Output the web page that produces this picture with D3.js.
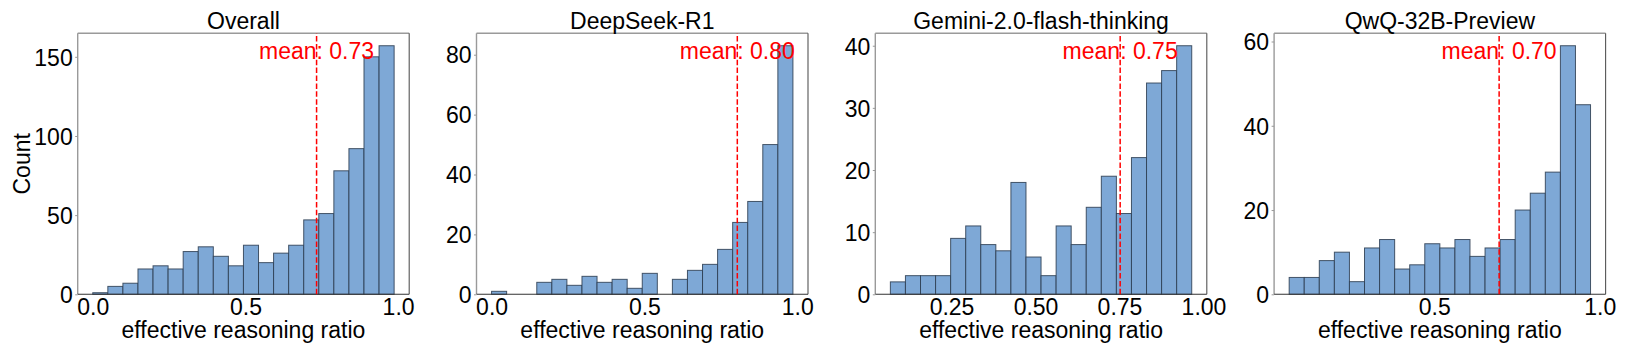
<!DOCTYPE html>
<html>
<head>
<meta charset="utf-8">
<script src="https://cdn.jsdelivr.net/npm/d3@7"></script>
<style>
  html, body { margin: 0; padding: 0; background: #fff; }
  svg { display: block; font-family: "Liberation Sans", Arial, sans-serif; }
</style>
</head>
<body>
<svg id="chart" width="1627" height="356"></svg>
<script>
// ---- data ----
const panelTitles = ["Overall", "DeepSeek-R1", "Gemini-2.0-flash-thinking", "QwQ-32B-Preview"];
const overallCounts = [1, 5, 7, 16, 18, 16, 27, 30, 24, 18, 31, 20, 26, 31, 47, 51, 78, 92, 150, 157];
const deepseekCounts = [1, 0, 0, 4, 5, 3, 6, 4, 5, 2, 7, 0, 5, 8, 10, 15, 24, 31, 50, 83];
const geminiCounts = [2, 3, 3, 3, 9, 11, 8, 7, 18, 6, 3, 11, 8, 14, 19, 13, 22, 34, 36, 40];
const qwqCounts = [4, 4, 8, 10, 3, 11, 13, 6, 7, 12, 11, 13, 9, 11, 13, 20, 24, 29, 59, 45];
const binMin = [0.0, 0.0, 0.068, 0.062];
const binMax = [0.987, 0.986, 0.965, 0.972];
const meanValues = [0.733, 0.804, 0.752, 0.696];
const xTickValues = [[0, 0.5, 1.0], [0, 0.5, 1.0], [0.25, 0.5, 0.75, 1.0], [0.5, 1.0]];
const xTickFormats = [".1f", ".1f", ".2f", ".1f"];
const yTickValues = [[0, 50, 100, 150], [0, 20, 40, 60, 80], [0, 10, 20, 30, 40], [0, 20, 40, 60]];
const xLabel = "effective reasoning ratio";
const yLabel = "Count";

const allCounts = [overallCounts, deepseekCounts, geminiCounts, qwqCounts];

// ---- layout ----
const svg = d3.select("#chart");
const firstLeft = 77.7, panelStep = 398.8, panelW = 331.5;
const plotTop = 33.3, plotBottom = 294.3;
const fontSize = 23;
const tickFontSize = 23;

allCounts.forEach((counts, i) => {
  const left = firstLeft + i * panelStep;
  const right = left + panelW;
  const n = counts.length;
  const lo = binMin[i], hi = binMax[i];
  const span = hi - lo;
  const bw = span / n;
  const x = d3.scaleLinear().domain([lo - 0.05 * span, hi + 0.05 * span]).range([left, right]);
  const y = d3.scaleLinear().domain([0, 1.05 * d3.max(counts)]).range([plotBottom, plotTop]);

  const g = svg.append("g");

  // bars
  g.selectAll("rect.bar").data(counts).enter().append("rect")
    .attr("class", "bar")
    .attr("x", (d, k) => x(lo + k * bw))
    .attr("width", (d, k) => x(lo + (k + 1) * bw) - x(lo + k * bw))
    .attr("y", d => y(d))
    .attr("height", d => y(0) - y(d))
    .attr("fill", "#7ea8d6")
    .attr("stroke", d => d > 0 ? "#2c3c50" : "none")
    .attr("stroke-opacity", 0.85)
    .attr("stroke-width", 1);

  // spines
  g.append("line").attr("x1", left).attr("x2", right).attr("y1", plotTop).attr("y2", plotTop)
    .attr("stroke", "#9a9a9a").attr("stroke-width", 1.6);
  g.append("line").attr("x1", left).attr("x2", left).attr("y1", plotTop).attr("y2", plotBottom)
    .attr("stroke", "#9a9a9a").attr("stroke-width", 1.4);
  g.append("line").attr("x1", right).attr("x2", right).attr("y1", plotTop).attr("y2", plotBottom)
    .attr("stroke", "#555").attr("stroke-width", 1.1);
  g.append("line").attr("x1", left).attr("x2", right).attr("y1", plotBottom).attr("y2", plotBottom)
    .attr("stroke", "#333").attr("stroke-width", 1.1);

  // x tick labels
  const xAxis = d3.axisBottom(x).tickValues(xTickValues[i]).tickFormat(d3.format(xTickFormats[i])).tickSize(0).tickPadding(0);
  const xa = g.append("g").attr("transform", `translate(0,${plotBottom})`).call(xAxis);
  xa.select(".domain").remove();
  xa.selectAll("text").attr("y", 21).attr("dy", null)
    .style("font-size", tickFontSize + "px").style("font-family", "Liberation Sans, Arial, sans-serif").attr("fill", "#000");

  // y tick labels (short faint ticks)
  const yAxis = d3.axisLeft(y).tickValues(yTickValues[i]).tickFormat(d3.format("d")).tickSize(2.5).tickPadding(2.5);
  const ya = g.append("g").attr("transform", `translate(${left},0)`).call(yAxis);
  ya.select(".domain").remove();
  ya.selectAll(".tick line").attr("stroke", "#999");
  ya.selectAll("text").attr("dy", "0.36em")
    .style("font-size", tickFontSize + "px").style("font-family", "Liberation Sans, Arial, sans-serif").attr("fill", "#000");

  // mean line
  const ymax = y.domain()[1];
  g.append("line")
    .attr("x1", x(meanValues[i])).attr("x2", x(meanValues[i]))
    .attr("y1", y(0)).attr("y2", y(ymax))
    .attr("stroke", "red").attr("stroke-width", 1.5)
    .attr("stroke-dasharray", "5.5,2.4");

  // mean text
  g.append("text")
    .attr("x", x(meanValues[i])).attr("y", y(0.9 * ymax))
    .attr("text-anchor", "middle")
    .attr("fill", "red")
    .style("font-size", fontSize + "px")
    .text("mean: " + d3.format(".2f")(meanValues[i]));

  // title
  g.append("text")
    .attr("x", (left + right) / 2).attr("y", plotTop - 4)
    .attr("text-anchor", "middle")
    .attr("fill", "#000")
    .style("font-size", fontSize + "px")
    .text(panelTitles[i]);

  // x label
  g.append("text")
    .attr("x", (left + right) / 2).attr("y", plotBottom + 44)
    .attr("text-anchor", "middle")
    .attr("fill", "#000")
    .style("font-size", fontSize + "px")
    .text(xLabel);

  if (i === 0) {
    g.append("text")
      .attr("transform", `translate(30,${(plotTop + plotBottom) / 2}) rotate(-90)`)
      .attr("text-anchor", "middle")
      .attr("fill", "#000")
      .style("font-size", fontSize + "px")
      .text(yLabel);
  }
});
</script>
</body>
</html>
